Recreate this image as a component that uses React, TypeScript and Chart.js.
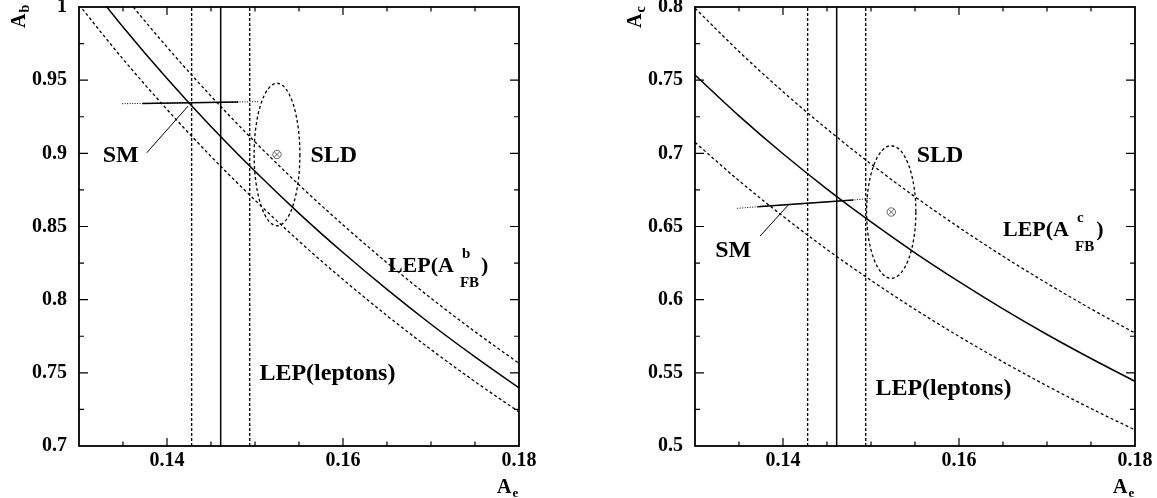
import React, { useEffect, useRef } from "react";
import { Chart, registerables } from "chart.js";

Chart.register(...registerables);

// ---------- data ----------
const AE_GRID = [0.13, 0.135, 0.14, 0.145, 0.15, 0.155, 0.16, 0.165, 0.17, 0.175, 0.18];

// LEP A_FB^b band (A_b vs A_e)
const AB_FB_CENTRAL = [1.0242, 0.9863, 0.9511, 0.9183, 0.8877, 0.859, 0.8322, 0.807, 0.7832, 0.7609, 0.7397];
const AB_FB_UPPER = [1.0475, 1.0087, 0.9726, 0.9391, 0.9078, 0.8785, 0.8511, 0.8253, 0.801, 0.7781, 0.7565];
const AB_FB_LOWER = [1.0015, 0.9644, 0.93, 0.8979, 0.868, 0.84, 0.8138, 0.7891, 0.7659, 0.744, 0.7233];

// LEP A_FB^c band (A_c vs A_e)
const AC_FB_CENTRAL = [0.7535, 0.7256, 0.6997, 0.6756, 0.6531, 0.632, 0.6123, 0.5937, 0.5762, 0.5598, 0.5442];
const AC_FB_UPPER = [0.7992, 0.7696, 0.7421, 0.7166, 0.6927, 0.6703, 0.6494, 0.6297, 0.6112, 0.5937, 0.5772];
const AC_FB_LOWER = [0.7075, 0.6813, 0.657, 0.6343, 0.6132, 0.5934, 0.5749, 0.5575, 0.5411, 0.5256, 0.511];

// LEP leptons A_e band
const AE_LEPTONS = [0.1428, 0.1461, 0.1494]; // low, central, high

// SLD ellipses: [A_e, err A_e, A_q, err A_q]
const SLD_B = [0.1525, 0.0026, 0.8992, 0.0487];
const SLD_C = [0.1523, 0.0028, 0.6599, 0.0453];

// SM prediction lines (dotted ends, solid middle)
const SM_B_AE = [0.1349, 0.1372, 0.1481, 0.1504];
const SM_B_AB = [0.9339, 0.9341, 0.9351, 0.9353];
const SM_C_AE = [0.1348, 0.1371, 0.148, 0.1501];
const SM_C_AC = [0.6624, 0.6635, 0.6681, 0.6693];

// SM label pointer lines
const PTR_B_AE = [0.1377, 0.1424];
const PTR_B_AB = [0.9004, 0.9323];
const PTR_C_AE = [0.1374, 0.1406];
const PTR_C_AC = [0.6435, 0.6647];

// Axis ranges
const X_RANGE = [0.13, 0.18];
const YB_RANGE = [0.7, 1.0];
const YC_RANGE = [0.5, 0.8];

// Label anchors (A_e, A_q)
const LBL_B_SM = [0.1327, 0.8941];
const LBL_B_SLD = [0.1563, 0.8941];
const LBL_B_LEPL = [0.1505, 0.745];
const LBL_B_FB = [0.1651, 0.8189];
const LBL_C_SM = [0.1323, 0.6292];
const LBL_C_SLD = [0.1552, 0.6941];
const LBL_C_LEPL = [0.1505, 0.5349];
const LBL_C_FB = [0.165, 0.6435];

const FONT = '"Liberation Serif", "Times New Roman", serif';

const pts = (xs: number[], ys: number[]) => xs.map((x, i) => ({ x, y: ys[i] }));

const isMajorX = (v: number) => Math.round(v * 1000) % 20 === 0;
const isMajorY = (v: number) => Math.round(v * 1000) % 50 === 0;

function buildConfig(cfg: any) {
  const [ymin, ymax] = cfg.yRange;
  const line = (data: any[], dashed: boolean | number[], width = 1.4, extra: any = {}) => ({
    data,
    borderColor: "#000",
    borderWidth: width,
    borderDash: dashed === true ? [3, 2.5] : dashed === false ? [] : dashed,
    pointRadius: 0,
    fill: false,
    ...extra,
  });
  const datasets: any[] = [
    line(pts(AE_GRID, cfg.central), false, 1.5, { cubicInterpolationMode: "monotone" }),
    line(pts(AE_GRID, cfg.upper), true, 1.3, { cubicInterpolationMode: "monotone" }),
    line(pts(AE_GRID, cfg.lower), true, 1.3, { cubicInterpolationMode: "monotone" }),
    line([{ x: AE_LEPTONS[0], y: ymin }, { x: AE_LEPTONS[0], y: ymax }], [3, 2], 1.3),
    line([{ x: AE_LEPTONS[1], y: ymin }, { x: AE_LEPTONS[1], y: ymax }], false, 1.5),
    line([{ x: AE_LEPTONS[2], y: ymin }, { x: AE_LEPTONS[2], y: ymax }], [3, 2], 1.3),
    line(pts(cfg.smAe, cfg.smA), [1, 1.5], 1.0),
    line(pts(cfg.smAe.slice(1, 3), cfg.smA.slice(1, 3)), false, 1.6),
    line(pts(cfg.ptrAe, cfg.ptrA), false, 1.0),
    {
      data: [{ x: cfg.sld[0], y: cfg.sld[2] }],
      showLine: false,
      pointStyle: "circle",
      pointRadius: 4.2,
      borderColor: "#555",
      backgroundColor: "rgba(0,0,0,0)",
      borderWidth: 0.9,
    },
    {
      data: [{ x: cfg.sld[0], y: cfg.sld[2] }],
      showLine: false,
      pointStyle: "crossRot",
      pointRadius: 4.2,
      borderColor: "#555",
      borderWidth: 0.9,
    },
  ];

  const decor = {
    id: "decor",
    afterDatasetsDraw(chart: any) {
      const { ctx, chartArea: a, scales } = chart;
      const xs = scales.x, ys = scales.y;
      ctx.save();
      // SLD ellipse
      const cx = xs.getPixelForValue(cfg.sld[0]);
      const cy = ys.getPixelForValue(cfg.sld[2]);
      const rx = Math.abs(xs.getPixelForValue(cfg.sld[0] + cfg.sld[1]) - cx);
      const ry = Math.abs(ys.getPixelForValue(cfg.sld[2] + cfg.sld[3]) - cy);
      ctx.beginPath();
      ctx.setLineDash([3, 2.5]);
      ctx.lineWidth = 1.3;
      ctx.strokeStyle = "#000";
      ctx.ellipse(cx, cy, rx, ry, 0, 0, Math.PI * 2);
      ctx.stroke();
      ctx.setLineDash([]);

      // frame and inside ticks
      ctx.lineWidth = 1.2;
      ctx.beginPath();
      xs.ticks.forEach((t: any) => {
        const px = xs.getPixelForValue(t.value);
        if (px <= a.left + 1 || px >= a.right - 1) return;
        const len = isMajorX(t.value) ? 8 : 4.5;
        ctx.moveTo(px, a.bottom);
        ctx.lineTo(px, a.bottom - len);
        ctx.moveTo(px, a.top);
        ctx.lineTo(px, a.top + len);
      });
      ys.ticks.forEach((t: any) => {
        const py = ys.getPixelForValue(t.value);
        if (py <= a.top + 1 || py >= a.bottom - 1) return;
        const len = isMajorY(t.value) ? 9 : 5;
        ctx.moveTo(a.left, py);
        ctx.lineTo(a.left + len, py);
        ctx.moveTo(a.right, py);
        ctx.lineTo(a.right - len, py);
      });
      ctx.stroke();
      ctx.lineWidth = 1.8;
      ctx.strokeRect(a.left, a.top, a.right - a.left, a.bottom - a.top);

      // text labels
      ctx.fillStyle = "#000";
      ctx.textAlign = "left";
      ctx.textBaseline = "alphabetic";
      const txt = (s: string, x: number, y: number, size: number) => {
        ctx.font = `bold ${size}px ${FONT}`;
        ctx.fillText(s, x, y);
        return ctx.measureText(s).width;
      };
      const at = (p: number[]) => [xs.getPixelForValue(p[0]), ys.getPixelForValue(p[1])];
      let p = at(cfg.lblSM);
      txt("SM", p[0], p[1], 24);
      p = at(cfg.lblSLD);
      txt("SLD", p[0], p[1], 24);
      p = at(cfg.lblLepl);
      txt("LEP(leptons)", p[0], p[1], 24);
      p = at(cfg.lblFB);
      const w = txt("LEP(A", p[0], p[1], 22);
      txt(cfg.flavour, p[0] + w + 8, p[1] - 14, 15);
      const wf = txt("FB", p[0] + w + 6, p[1] + 15, 15);
      txt(")", p[0] + w + 6 + wf + 2, p[1], 22);

      // axis titles
      const wa = txt("A", a.right - 22, 493, 20);
      txt("e", a.right - 22 + wa + 1, 497, 13);
      ctx.translate(a.left - 54, a.top + 21);
      ctx.rotate(-Math.PI / 2);
      const wb = txt("A", 0, 0, 20);
      txt(cfg.flavour, wb + 1, 4, 14);
      ctx.restore();
    },
  };

  return {
    type: "line",
    data: { datasets },
    plugins: [decor],
    options: {
      animation: false,
      responsive: false,
      devicePixelRatio: 1,
      events: [],
      layout: { padding: { left: 0, top: 7, right: cfg.padRight, bottom: 0 } },
      plugins: { legend: { display: false }, tooltip: { enabled: false } },
      elements: { point: { radius: 0 } },
      scales: {
        x: {
          type: "linear",
          min: X_RANGE[0],
          max: X_RANGE[1],
          grid: { display: false, drawTicks: false, tickLength: 0 },
          border: { display: false },
          ticks: {
            stepSize: 0.005,
            autoSkip: false,
            maxRotation: 0,
            minRotation: 0,
            padding: 3,
            color: "#000",
            font: { family: FONT, size: 20, weight: "bold" },
            callback: (v: number) => (isMajorX(v) ? String(parseFloat(v.toFixed(3))) : ""),
          },
          afterFit: (s: any) => {
            s.height = 52;
            s.paddingLeft = 0;
            s.paddingRight = 0;
          },
        },
        y: {
          type: "linear",
          min: ymin,
          max: ymax,
          grid: { display: false, drawTicks: false, tickLength: 0 },
          border: { display: false },
          ticks: {
            stepSize: 0.025,
            autoSkip: false,
            padding: 12,
            color: "#000",
            font: { family: FONT, size: 20, weight: "bold" },
            callback: (v: number) => (isMajorY(v) ? String(parseFloat(v.toFixed(3))) : ""),
          },
          afterFit: (s: any) => {
            s.width = cfg.plotLeft;
            s.paddingTop = 0;
            s.paddingBottom = 0;
          },
        },
      },
    },
  };
}

const CFG_B = {
  yRange: YB_RANGE,
  central: AB_FB_CENTRAL,
  upper: AB_FB_UPPER,
  lower: AB_FB_LOWER,
  smAe: SM_B_AE,
  smA: SM_B_AB,
  ptrAe: PTR_B_AE,
  ptrA: PTR_B_AB,
  sld: SLD_B,
  lblSM: LBL_B_SM,
  lblSLD: LBL_B_SLD,
  lblLepl: LBL_B_LEPL,
  lblFB: LBL_B_FB,
  flavour: "b",
  plotLeft: 79,
  padRight: 59,
};

const CFG_C = {
  yRange: YC_RANGE,
  central: AC_FB_CENTRAL,
  upper: AC_FB_UPPER,
  lower: AC_FB_LOWER,
  smAe: SM_C_AE,
  smA: SM_C_AC,
  ptrAe: PTR_C_AE,
  ptrA: PTR_C_AC,
  sld: SLD_C,
  lblSM: LBL_C_SM,
  lblSLD: LBL_C_SLD,
  lblLepl: LBL_C_LEPL,
  lblFB: LBL_C_FB,
  flavour: "c",
  plotLeft: 117,
  padRight: 22,
};

function Plot({ cfg, left, width }: { cfg: any; left: number; width: number }) {
  const ref = useRef<HTMLCanvasElement>(null);
  useEffect(() => {
    const chart = new Chart(ref.current as HTMLCanvasElement, buildConfig(cfg) as any);
    return () => chart.destroy();
  }, [cfg]);
  return (
    <canvas
      ref={ref}
      width={width}
      height={498}
      style={{ position: "absolute", left, top: 0, width, height: 498, display: "block" }}
    />
  );
}

export default function App() {
  return (
    <div style={{ position: "absolute", left: 0, top: 0, width: 1157, height: 498, background: "#fff" }}>
      <Plot cfg={CFG_B} left={0} width={578} />
      <Plot cfg={CFG_C} left={578} width={579} />
    </div>
  );
}
